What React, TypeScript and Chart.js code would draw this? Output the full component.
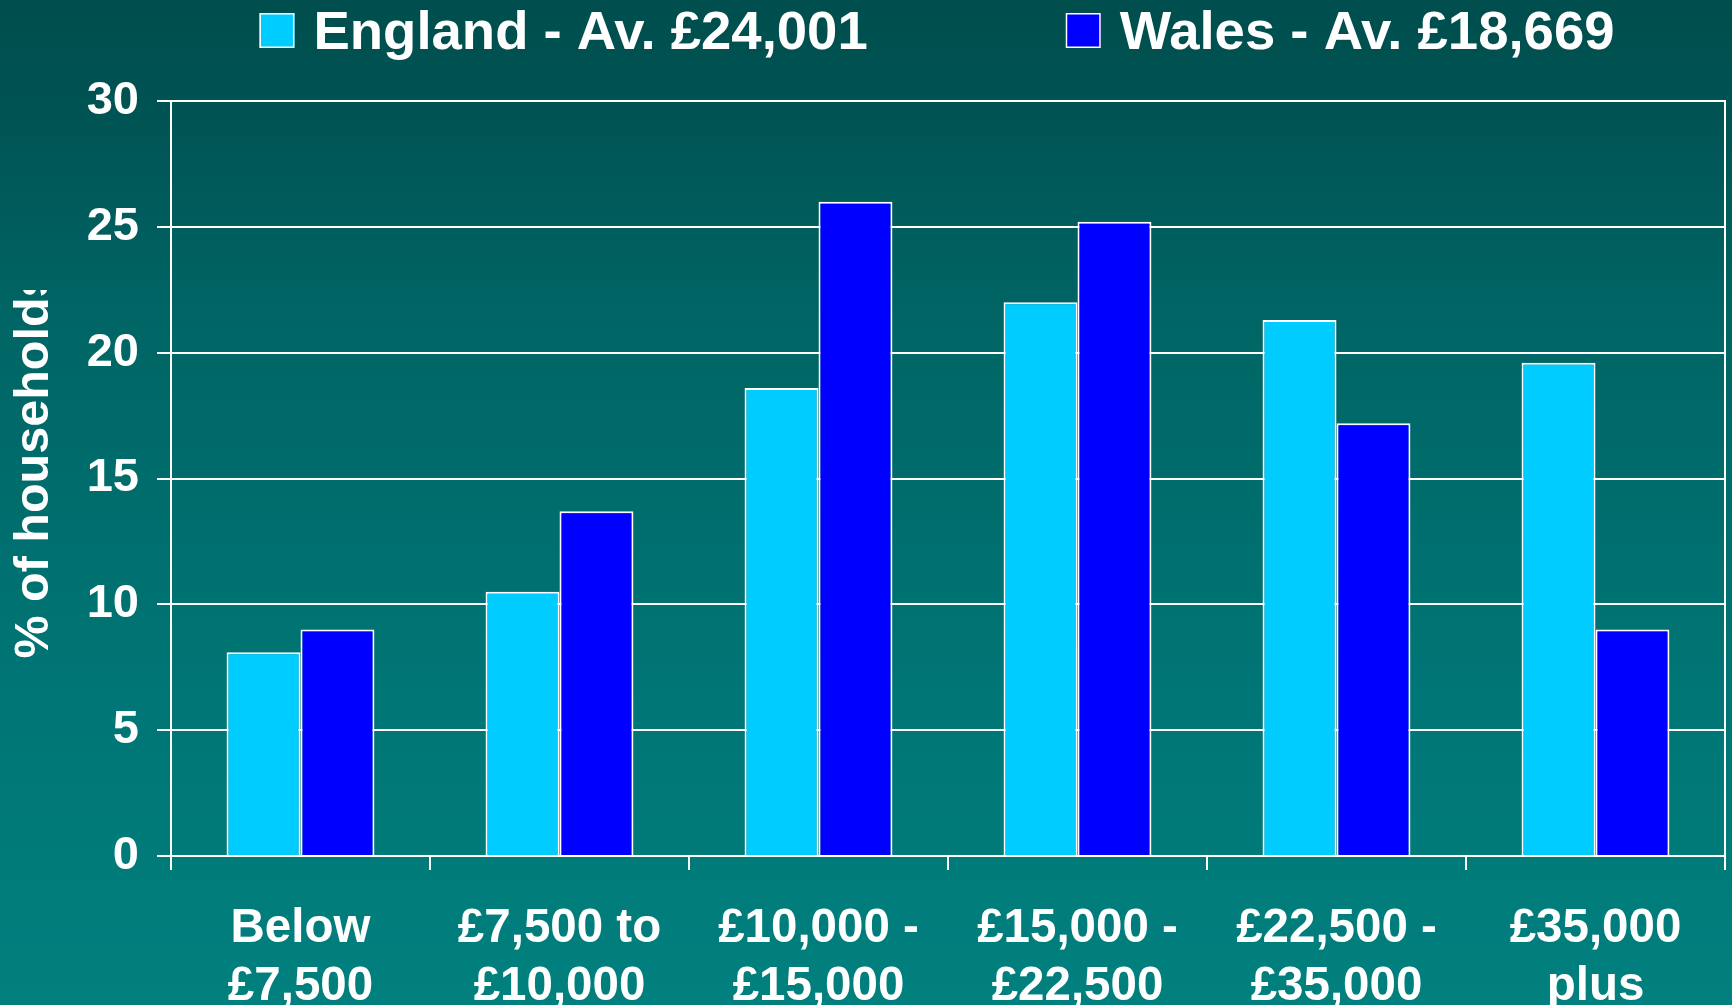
import React, { useEffect, useRef } from 'react';
import { Chart, registerables } from 'chart.js';

Chart.register(...registerables);

const categories: string[][] = [
  ['Below', '£7,500'],
  ['£7,500 to', '£10,000'],
  ['£10,000 -', '£15,000'],
  ['£15,000 -', '£22,500'],
  ['£22,500 -', '£35,000'],
  ['£35,000', 'plus'],
];
const englandValues = [8.1, 10.5, 18.6, 22.0, 21.3, 19.6];
const walesValues = [9.0, 13.7, 26.0, 25.2, 17.2, 9.0];
const seriesLabels = ['England - Av. £24,001', 'Wales - Av. £18,669'];
const seriesColors = ['#00CCFF', '#0000FF'];
const yAxisTitle = '% of households';
const yMin = 0;
const yMax = 30;
const yStep = 5;

const FONT = '"Liberation Sans", Arial, sans-serif';

export default function App() {
  const ref = useRef<HTMLCanvasElement>(null);

  useEffect(() => {
    document.body.style.margin = '0';
    const canvas = ref.current!;

    const bgPlugin = {
      id: 'bgGradient',
      beforeDraw(chart: any) {
        const { ctx, width, height } = chart;
        const g = ctx.createLinearGradient(0, 0, 0, height);
        g.addColorStop(0, 'rgb(0,78,78)');
        g.addColorStop(0.12, 'rgb(0,84,84)');
        g.addColorStop(0.3, 'rgb(0,100,100)');
        g.addColorStop(0.7, 'rgb(0,118,118)');
        g.addColorStop(1, 'rgb(0,128,126)');
        ctx.save();
        ctx.fillStyle = g;
        ctx.fillRect(0, 0, width, height);
        ctx.restore();
      },
    };

    const legendPlugin = {
      id: 'topLegend',
      afterDraw(chart: any) {
        const ctx = chart.ctx;
        ctx.save();
        ctx.font = `bold 54.5px ${FONT}`;
        ctx.textBaseline = 'middle';
        ctx.textAlign = 'left';
        const box = 35;
        const gapText = 19;
        const gapItem = 198;
        const items = chart.data.datasets.map((ds: any) => ({
          label: ds.label as string,
          color: ds.backgroundColor as string,
          w: ctx.measureText(ds.label).width,
        }));
        const total =
          items.reduce((a: number, it: any) => a + box + gapText + it.w, 0) +
          gapItem * (items.length - 1);
        const center = (chart.chartArea.left + chart.chartArea.right) / 2 - 11;
        let x = center - total / 2;
        const top = 13;
        items.forEach((it: any) => {
          ctx.fillStyle = it.color;
          ctx.fillRect(x, top, box, box);
          ctx.strokeStyle = '#FFFFFF';
          ctx.lineWidth = 1.5;
          ctx.strokeRect(x + 0.75, top + 0.75, box - 1.5, box - 1.5);
          ctx.fillStyle = '#FFFFFF';
          ctx.fillText(it.label, x + box + gapText, top + box / 2 + 3);
          x += box + gapText + it.w + gapItem;
        });
        ctx.restore();
      },
    };

    const yTitlePlugin = {
      id: 'yTitleClipped',
      afterDraw(chart: any) {
        const ctx = chart.ctx;
        const area = chart.chartArea;
        ctx.save();
        ctx.beginPath();
        ctx.rect(0, 290, area.left, chart.height - 290);
        ctx.clip();
        ctx.font = `bold 48.5px ${FONT}`;
        ctx.fillStyle = '#FFFFFF';
        ctx.textAlign = 'center';
        ctx.textBaseline = 'alphabetic';
        ctx.translate(48, (area.top + area.bottom) / 2 - 14);
        ctx.rotate(-Math.PI / 2);
        ctx.fillText(yAxisTitle, 0, 0);
        ctx.restore();
      },
    };

    const chart = new Chart(canvas, {
      type: 'bar',
      data: {
        labels: categories as any,
        datasets: [
          {
            label: seriesLabels[0],
            data: englandValues,
            backgroundColor: seriesColors[0],
            borderColor: '#FFFFFF',
            borderWidth: 2,
            borderSkipped: 'bottom',
          },
          {
            label: seriesLabels[1],
            data: walesValues,
            backgroundColor: seriesColors[1],
            borderColor: '#FFFFFF',
            borderWidth: 2,
            borderSkipped: 'bottom',
          },
        ],
      },
      options: {
        responsive: false,
        maintainAspectRatio: false,
        animation: false,
        layout: { padding: { top: 101, left: 0, right: 0, bottom: 0 } },
        datasets: { bar: { categoryPercentage: 0.571, barPercentage: 1.0 } } as any,
        plugins: {
          legend: { display: false },
          tooltip: { enabled: false },
        },
        scales: {
          x: {
            grid: {
              display: true,
              drawOnChartArea: false,
              drawTicks: true,
              tickLength: 14,
              offset: true,
              color: '#FFFFFF',
              lineWidth: 2,
            },
            border: { display: true, color: '#FFFFFF', width: 2 },
            ticks: {
              color: '#FFFFFF',
              font: { family: FONT, size: 47.5, weight: 'bold', lineHeight: 1.22 },
              padding: 30,
              maxRotation: 0,
              minRotation: 0,
              autoSkip: false,
            },
            afterFit: (s: any) => {
              s.height = 149;
            },
          },
          y: {
            min: yMin,
            max: yMax,
            ticks: {
              stepSize: yStep,
              color: '#FFFFFF',
              font: { family: FONT, size: 47, weight: 'bold' },
              padding: 18,
            },
            grid: { color: '#FFFFFF', lineWidth: 2, tickLength: 14 },
            border: { display: true, color: '#FFFFFF', width: 2 },
            title: { display: false },
            afterFit: (s: any) => {
              s.width = 171;
            },
          },
          y2: {
            position: 'right',
            min: yMin,
            max: yMax,
            ticks: { display: false },
            grid: { drawOnChartArea: false, drawTicks: false },
            border: { display: true, color: '#FFFFFF', width: 2 },
            afterFit: (s: any) => {
              s.width = 7;
            },
          },
        },
      } as any,
      plugins: [bgPlugin, legendPlugin, yTitlePlugin],
    });

    return () => chart.destroy();
  }, []);

  return (
    <canvas
      ref={ref}
      width={1732}
      height={1005}
      style={{ display: 'block', width: '1732px', height: '1005px' }}
    />
  );
}
